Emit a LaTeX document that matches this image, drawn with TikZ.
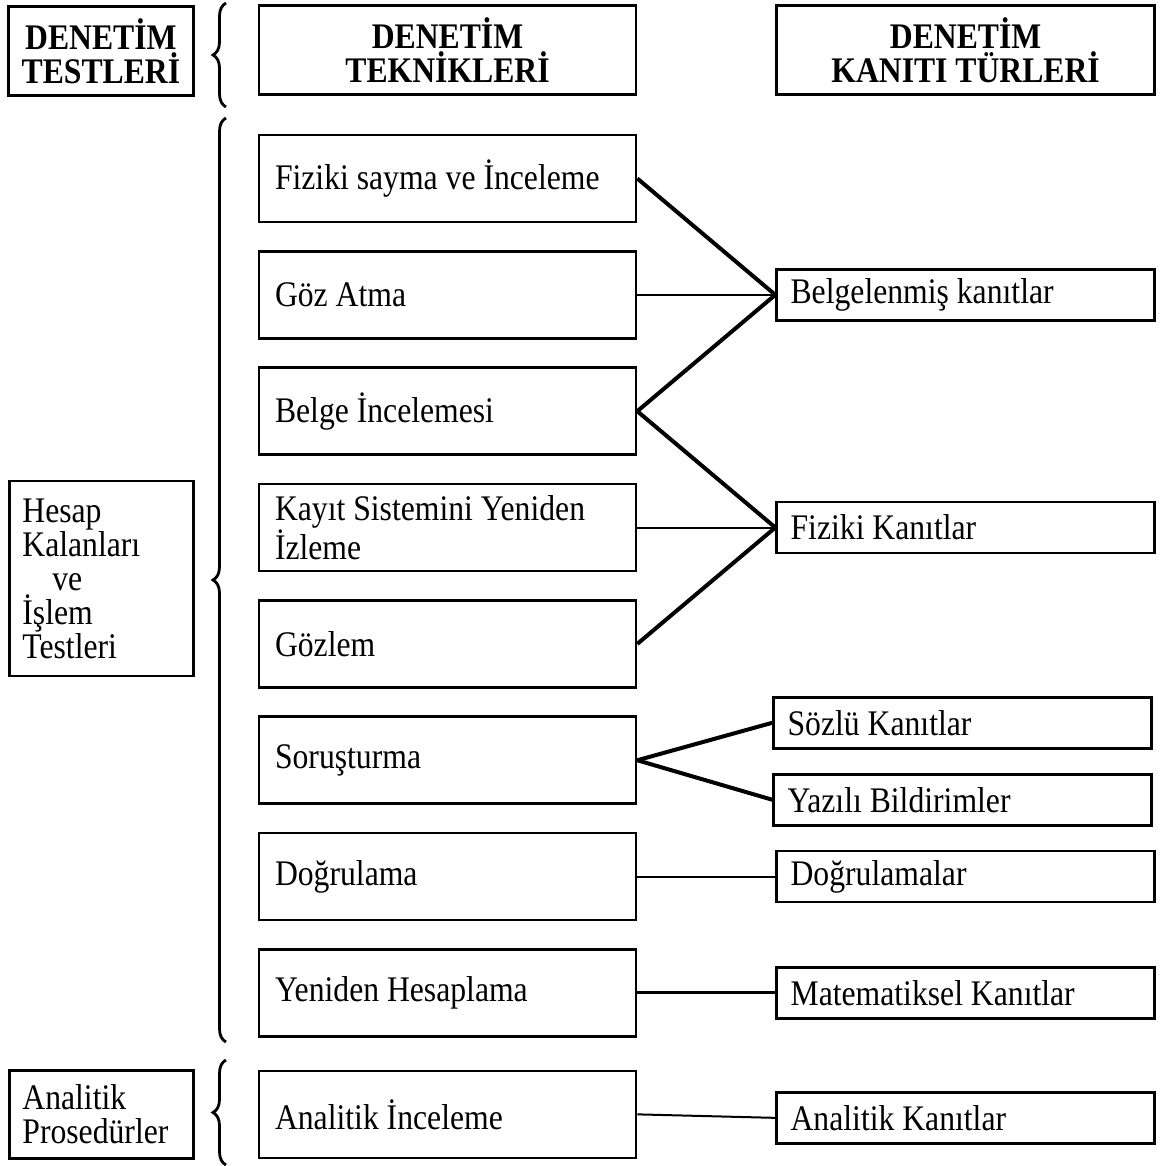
\documentclass[tikz,border=0pt]{standalone}
\usepackage{fontspec}
\setmainfont{Liberation Serif}[FakeStretch=0.88]
\usetikzlibrary{positioning}
\usetikzlibrary{decorations.pathreplacing}
\newcommand{\boxfont}{\fontsize{18}{17}\selectfont}

\begin{document}
\begin{tikzpicture}[%
    x=0.5pt, y=-0.5pt,
    font=\boxfont,
techbox/.style={rectangle, align=flush left, draw=black, line width=1.3pt, text width=172.5pt, inner xsep=8pt, inner ysep=2pt, minimum height=43.5pt},
evbox/.style={rectangle, align=flush left, draw=black, line width=1.3pt, text width=175pt, inner xsep=7pt, inner ysep=2pt, minimum height=25.5pt},
headbox/.style={rectangle, align=flush center, draw=black, line width=1.3pt, minimum width=188.5pt, minimum height=44.5pt, font=\boxfont\bfseries},
testbox/.style={rectangle, align=flush left, draw=black, line width=1.3pt, text width=79pt, inner xsep=6.5pt, inner ysep=2pt},
thinline/.style={line width=1pt},
midline/.style={line width=1.5pt},
thickline/.style={line width=2pt},
bracestyle/.style={decorate, decoration={brace, amplitude=6.5pt}, line width=1.4pt}
]

\useasboundingbox (0,0) rectangle (1170,1165);

% technique Nodes
\node[techbox]      (fiziki) at (447.5,178.5) {Fiziki sayma ve İnceleme};
\node[techbox]      (gozatma) [below=13.375pt of fiziki] {Göz Atma};
\node[techbox]      (belge) [below=13.375pt of gozatma] {Belge İncelemesi};
\node[techbox]      (kayit) [below=13.375pt of belge] {Kayıt Sistemini Yeniden\\İzleme};
\node[techbox]      (gozlem) [below=13.375pt of kayit] {Gözlem};
\node[techbox]      (sorusturma) [below=13.375pt of gozlem] {Soruşturma};
\node[techbox]      (dogrulama) [below=13.375pt of sorusturma] {Doğrulama};
\node[techbox]      (hesaplama) [below=13.375pt of dogrulama] {Yeniden Hesaplama};
\node[techbox]      (analitik) [below=15.9pt of hesaplama] {Analitik İnceleme};

% evidence Nodes
\node[evbox]      (belgelenmis) [right=69pt of gozatma] {Belgelenmiş kanıtlar};
\node[evbox]      (fizikikanit) [right=69pt of kayit] {Fiziki Kanıtlar};
\node[evbox]      (sozlu) [right=67.5pt of sorusturma, yshift=18.75pt] {Sözlü Kanıtlar};
\node[evbox]      (yazili) [right=67.5pt of sorusturma, yshift=-19.75pt] {Yazılı Bildirimler};
\node[evbox]      (dogrulamalar) [right=69pt of dogrulama] {Doğrulamalar};
\node[evbox]      (matematiksel) [right=69pt of hesaplama] {Matematiksel Kanıtlar};
\node[evbox]      (analitikkanit) [right=69pt of analitik, yshift=-1.75pt] {Analitik Kanıtlar};

% test Nodes
\node[testbox, minimum height=97.5pt]      (hesap) [left=31.5pt of kayit.north west, anchor=north east, yshift=1.5pt] {Hesap\\Kalanları\\\hspace{15pt}ve\\İşlem\\Testleri};
\node[testbox, minimum height=44pt]      (prosedur) [left=31.5pt of analitik] {Analitik\\Prosedürler};

% Titles
\node[headbox]      (teknikhead) [above=19pt of fiziki] {DENETİM\\TEKNİKLERİ};
\node[headbox, minimum width=189pt]      (kanithead) [right=69pt of teknikhead] {DENETİM\\KANITI TÜRLERİ};
\node[headbox, minimum width=92.5pt]      (testhead) [left=31.5pt of teknikhead, yshift=-0.5pt] {DENETİM\\TESTLERİ};

% Lines
\draw[thickline] (fiziki.east) -- (belgelenmis.west);
\draw[thinline] (gozatma.east) -- (belgelenmis.west);
\draw[thickline] (belge.east) -- (belgelenmis.west);
\draw[thickline] (belge.east) -- (fizikikanit.west);
\draw[thinline] (kayit.east) -- (fizikikanit.west);
\draw[thickline] (gozlem.east) -- (fizikikanit.west);
\draw[thickline] (sorusturma.east) -- (sozlu.west);
\draw[thickline] (sorusturma.east) -- (yazili.west);
\draw[thinline] (dogrulama.east) -- (dogrulamalar.west);
\draw[midline] (hesaplama.east) -- (matematiksel.west);
\draw[thinline] (analitik.east) -- (analitikkanit.west);

% Braces
\coordinate (b1top) at (226,3);
\coordinate (b1bot) at (226,107);
\coordinate (b2top) at (226,118);
\coordinate (b2bot) at (226,1042);
\coordinate (b3top) at (226,1060);
\coordinate (b3bot) at (226,1165);
\draw[bracestyle] (b1bot) -- (b1top);
\draw[bracestyle] (b2bot) -- (b2top);
\draw[bracestyle] (b3bot) -- (b3top);

\end{tikzpicture}
\end{document}
